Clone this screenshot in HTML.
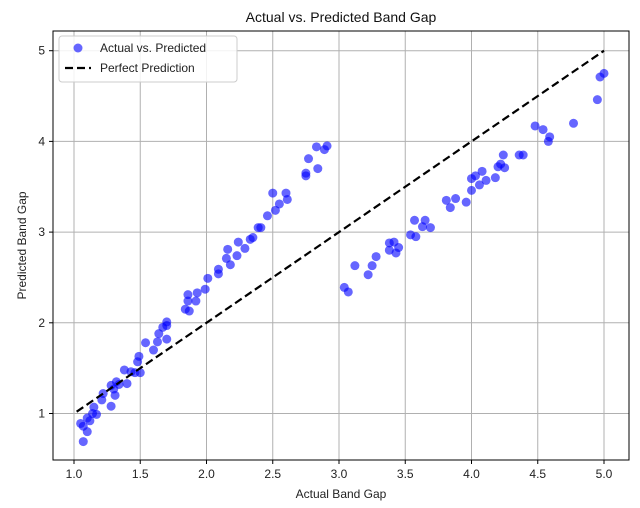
<!DOCTYPE html>
<html><head><meta charset="utf-8"><style>
body{margin:0;background:#fff}
svg{display:block;font-family:"Liberation Sans","DejaVu Sans",sans-serif}
</style></head><body>
<svg id="chart" width="640" height="508" viewBox="0 0 640 508"></svg>
<script>
const xTicks=[1.0,1.5,2.0,2.5,3.0,3.5,4.0,4.5,5.0];
const yTicks=[1,2,3,4,5];
const actual=[3.04,3.07,3.12,3.22,3.25,3.28,3.38,3.415,3.38,3.45,3.43,3.54,3.58,3.57,3.63,3.65,3.69,3.81,3.84,3.88,3.96,4.00,4.00,4.03,4.06,4.08,4.11,4.18,4.20,4.22,4.25,4.24,4.36,4.39,4.48,4.54,4.59,4.58,4.77,4.95,4.97,5.00,
2.83,2.91,2.89,2.77,2.84,2.75,2.75,2.50,2.60,2.61,2.55,2.52,2.46,2.41,2.39,2.35,2.33,2.29,2.24,2.23,2.16,2.15,2.18,2.09,2.09,2.01,1.99,1.93,1.86,1.92,1.86,1.84,1.87,1.70,1.70,1.67,1.64,1.70,1.63,1.54,1.60,1.49,1.48,1.50,1.46,1.38,1.40,1.32,1.31,1.22,1.21,1.28,1.15,1.14,1.10,1.05,1.07,1.10,1.07,1.12,1.17,1.30,1.34,1.43,1.28];
const predicted=[2.39,2.34,2.63,2.53,2.63,2.73,2.88,2.89,2.80,2.83,2.77,2.97,2.95,3.13,3.06,3.13,3.05,3.35,3.27,3.37,3.33,3.46,3.59,3.62,3.52,3.67,3.57,3.60,3.72,3.75,3.71,3.85,3.85,3.85,4.17,4.13,4.05,4.00,4.20,4.46,4.71,4.75,
3.94,3.95,3.91,3.81,3.70,3.65,3.62,3.43,3.43,3.36,3.31,3.24,3.18,3.05,3.05,2.94,2.92,2.82,2.89,2.74,2.81,2.71,2.64,2.59,2.54,2.49,2.37,2.33,2.31,2.24,2.24,2.15,2.13,2.01,1.97,1.95,1.88,1.82,1.79,1.78,1.70,1.63,1.57,1.45,1.45,1.48,1.33,1.35,1.20,1.22,1.15,1.08,1.07,1.00,0.95,0.89,0.86,0.80,0.69,0.92,0.99,1.27,1.32,1.46,1.31];
const perfect=[1.02,5.0];

const L=53,R=629,T=31,B=460;
const sx=v=>74+(v-1)*132.5;
const sy=v=>413.5-(v-1)*90.7;
const NS="http://www.w3.org/2000/svg";
const svg=document.getElementById('chart');
function mk(tag,attrs,parent){const e=document.createElementNS(NS,tag);for(const k in attrs)e.setAttribute(k,attrs[k]);(parent||svg).appendChild(e);return e;}

// grid
xTicks.forEach(t=>{
  const g=mk('line',{x1:sx(t),x2:sx(t),y1:T,y2:B,stroke:'#b0b0b0','stroke-width':1});
  
  
  mk('line',{x1:sx(t),x2:sx(t),y1:B,y2:B+4,stroke:'#000'});
  const tx=mk('text',{x:sx(t),y:B+18,'text-anchor':'middle','font-size':12,fill:'#222'});
  tx.textContent=t.toFixed(1);
  
  
});
yTicks.forEach(t=>{
  const g=mk('line',{x1:L,x2:R,y1:sy(t),y2:sy(t),stroke:'#b0b0b0','stroke-width':1});
  
  
  mk('line',{x1:L-4,x2:L,y1:sy(t),y2:sy(t),stroke:'#000'});
  const tx=mk('text',{x:L-8,y:sy(t)+4,'text-anchor':'end','font-size':12,fill:'#222'});
  tx.textContent=t;
  
  
});

// points
actual.forEach((a,i)=>{
  const c=mk('circle',{cx:sx(a),cy:sy(predicted[i]),r:4.5,fill:'#0000ff','fill-opacity':0.6});
  
  
});

// perfect line
const pl=mk('line',{x1:sx(perfect[0]),y1:sy(perfect[0]),x2:sx(perfect[1]),y2:sy(perfect[1]),stroke:'#000','stroke-width':2.2,'stroke-dasharray':'8,4'});



// frame
const fr=mk('rect',{x:L,y:T,width:R-L,height:B-T,fill:'none',stroke:'#000','stroke-width':1});



// titles
const ti=mk('text',{x:(L+R)/2,y:22,'text-anchor':'middle','font-size':14,fill:'#111'});
ti.textContent='Actual vs. Predicted Band Gap';


const xl=mk('text',{x:(L+R)/2,y:498,'text-anchor':'middle','font-size':12,fill:'#222'});
xl.textContent='Actual Band Gap';


const yl=mk('text',{x:0,y:0,'text-anchor':'middle','font-size':12,fill:'#222',transform:'translate(26,'+((T+B)/2)+') rotate(-90)'});
yl.textContent='Predicted Band Gap';



// legend
const lg=mk('g',{});


mk('rect',{x:59,y:36,width:178,height:46,rx:3,fill:'#fff','fill-opacity':0.85,stroke:'#ccc'},lg);
const lc=mk('circle',{cx:78,cy:48,r:4.5,fill:'#0000ff','fill-opacity':0.6},lg);


const lt1=mk('text',{x:100,y:52,'font-size':12,fill:'#222'},lg);
lt1.textContent='Actual vs. Predicted';


const ll=mk('line',{x1:65,x2:91,y1:68,y2:68,stroke:'#000','stroke-width':2.2,'stroke-dasharray':'8,4'},lg);


const lt2=mk('text',{x:100,y:72,'font-size':12,fill:'#222'},lg);
lt2.textContent='Perfect Prediction';


</script>
</body></html>
